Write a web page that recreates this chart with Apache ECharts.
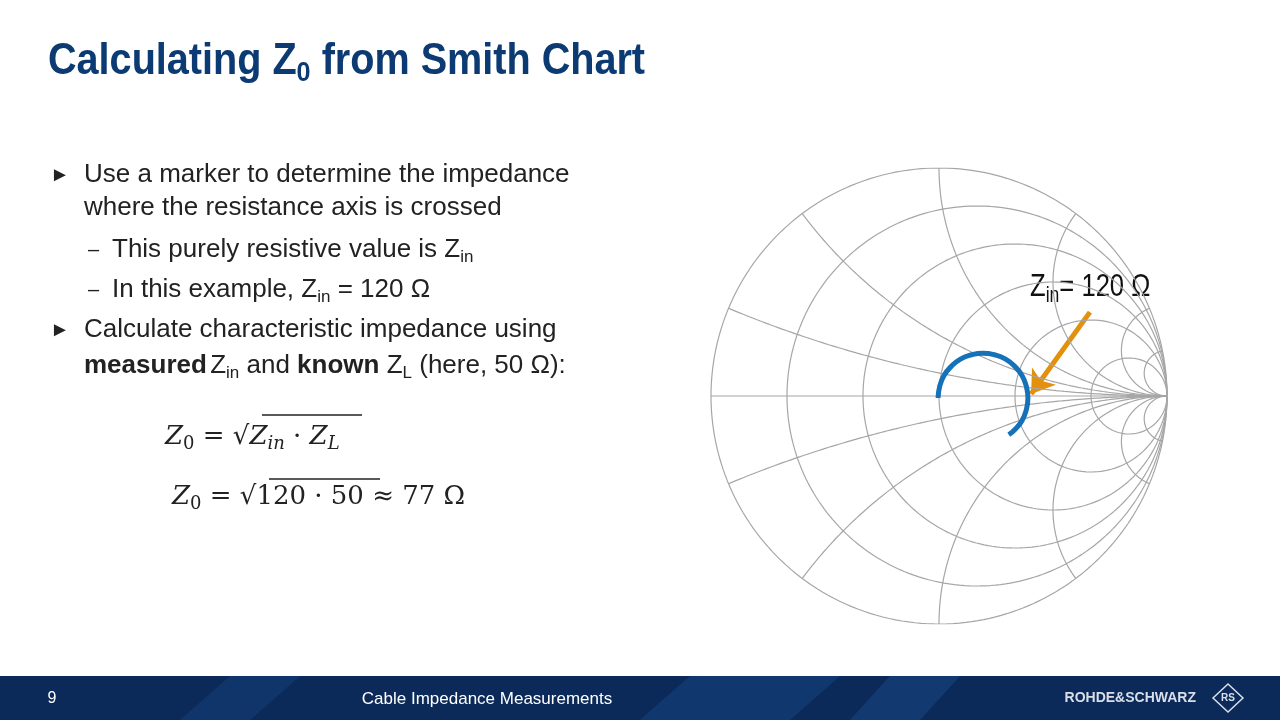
<!DOCTYPE html>
<html>
<head>
<meta charset="UTF-8">
<script src="https://cdn.jsdelivr.net/npm/echarts@6/dist/echarts.min.js"></script>
<style>html,body{margin:0;padding:0;background:#fff}#main{width:1280px;height:720px}</style>
</head>
<body>
<div id="main"></div>
<script>
// Smith chart grid values
var resistanceValues = [0, 0.2, 0.5, 1, 2, 5];
var reactanceValues = [0.2, 0.5, 1, 2, 5, 10];
// measured trace (reflection coefficient)
var traceRe = [-0.004, 0.003, 0.022, 0.054, 0.094, 0.142, 0.193, 0.244, 0.292, 0.332, 0.364, 0.383, 0.390, 0.383, 0.364, 0.332, 0.306];
var traceIm = [-0.009, 0.042, 0.090, 0.130, 0.162, 0.181, 0.188, 0.181, 0.162, 0.130, 0.090, 0.042, -0.009, -0.060, -0.108, -0.148, -0.170];
// annotation arrow start/end
var arrowRe = [0.662, 0.404];
var arrowIm = [0.368, 0.009];

function gamma(r, x) {
    // (z-1)/(z+1)
    var a = r - 1, b = x, c = r + 1, d = x;
    var den = c * c + d * d;
    return [(a * c + b * d) / den, (b * c - a * d) / den];
}
var gridSeries = [];
var lineStyle = {color: '#a6a6a6', width: 1.2};
resistanceValues.forEach(function (r) {
    var pts = [];
    for (var i = -400; i <= 400; i++) {
        var x = Math.sinh(i / 40) * 0.5;
        pts.push(gamma(r, x));
    }
    gridSeries.push({type: 'line', data: pts, showSymbol: false, lineStyle: lineStyle, silent: true});
});
reactanceValues.forEach(function (xv) {
    [xv, -xv].forEach(function (x) {
        var pts = [];
        for (var i = 0; i <= 400; i++) {
            var r = Math.sinh(i / 40) * 0.5;
            pts.push(gamma(r, x));
        }
        gridSeries.push({type: 'line', data: pts, showSymbol: false, lineStyle: lineStyle, silent: true});
    });
});
gridSeries.push({type: 'line', data: [[-1, 0], [1, 0]], showSymbol: false, lineStyle: lineStyle, silent: true});
gridSeries.push({
    type: 'line', smooth: true, showSymbol: false,
    data: traceRe.map(function (v, i) { return [v, traceIm[i]]; }),
    lineStyle: {color: '#1672b8', width: 5}
});
gridSeries.push({
    type: 'lines', coordinateSystem: 'cartesian2d',
    symbol: ['none', 'arrow'], symbolSize: 22,
    lineStyle: {color: '#e3900d', width: 5, opacity: 1},
    data: [{coords: [[arrowRe[0], arrowIm[0]], [arrowRe[1], arrowIm[1]]]}]
});

var txt = '#222';
var sans = 'Liberation Sans, Arial, sans-serif';
var math = 'DejaVu Serif, serif';
function t(x, y, text, extra) {
    var s = {text: text, x: x, y: y, fill: txt, font: '26px ' + sans, textVerticalAlign: 'middle'};
    for (var k in extra) s[k] = extra[k];
    return {type: 'text', style: s};
}
var rich = {
    sub: {fontSize: 17, verticalAlign: 'bottom', padding: [15, 0, 0, 0], fontFamily: sans, fill: txt},
    b: {fontWeight: 'bold', fontSize: 26, fontFamily: sans},
    n: {fontSize: 26, fontFamily: sans},
    mi: {fontSize: 26, fontStyle: 'italic', fontFamily: math},
    m: {fontSize: 26, fontFamily: math},
    msub: {fontSize: 18, fontStyle: 'italic', fontFamily: math, padding: [14, 0, 0, 0]},
    msubn: {fontSize: 18, fontFamily: math, padding: [14, 0, 0, 0]}
};
function rt(x, y, text, extra) {
    var s = {text: text, x: x, y: y, rich: rich, textVerticalAlign: 'middle', fill: txt};
    for (var k in extra) s[k] = extra[k];
    return {type: 'text', style: s};
}

var graphics = [
    {type: 'text', x: 48, y: 62, scaleX: 0.9, style: {text: 'Calculating Z{s|0} from Smith Chart', x: 0, y: 0, textVerticalAlign: 'middle',
        fill: '#0c3a73', font: 'bold 44px Arial, sans-serif',
        rich: {s: {fontSize: 28, fontWeight: 'bold', fontFamily: 'Arial', padding: [22, 0, 0, 0], fill: '#0c3a73'}}}},
    t(50, 175, '►', {font: '20px ' + sans}),
    t(84, 175, 'Use a marker to determine the impedance'),
    t(84, 208, 'where the resistance axis is crossed'),
    t(88, 250, '–', {font: '20px ' + sans}),
    rt(112, 250, '{n|This purely resistive value is Z}{sub|in}'),
    t(88, 290, '–', {font: '20px ' + sans}),
    rt(112, 290, '{n|In this example, Z}{sub|in}{n| = 120 Ω}'),
    t(50, 330, '►', {font: '20px ' + sans}),
    t(84, 330, 'Calculate characteristic impedance using'),
    rt(84, 366, '{b|measured} {n|Z}{sub|in}{n| and }{b|known}{n| Z}{sub|L}{n| (here, 50 Ω):}'),
    rt(165, 437, '{mi|Z}{msubn|0}{m| = √}{mi|Z}{msub|in}{m| · }{mi|Z}{msub|L}'),
    {type: 'line', shape: {x1: 262, y1: 415, x2: 362, y2: 415}, style: {stroke: txt, lineWidth: 1.5}},
    rt(172, 497, '{mi|Z}{msubn|0}{m| = √120 · 50 ≈ 77 Ω}'),
    {type: 'line', shape: {x1: 269, y1: 479, x2: 380, y2: 479}, style: {stroke: txt, lineWidth: 1.5}},
    {type: 'text', x: 1030, y: 287, scaleX: 0.8, style: {text: 'Z{s|in}= 120 Ω', x: 0, y: 0, textVerticalAlign: 'middle', fill: '#111',
        font: '32px Arial, sans-serif',
        rich: {s: {fontSize: 22, fontFamily: 'Arial', padding: [18, 0, 0, 0], fill: '#111'}}}},
    // footer
    {type: 'rect', shape: {x: 0, y: 676, width: 1280, height: 44}, style: {fill: '#0b2a5a'}},
    {type: 'polygon', shape: {points: [[180, 720], [230, 676], [300, 676], [250, 720]]}, style: {fill: '#133a70', opacity: 0.7}},
    {type: 'polygon', shape: {points: [[640, 720], [690, 676], [840, 676], [790, 720]]}, style: {fill: '#15427c', opacity: 0.6}},
    {type: 'polygon', shape: {points: [[850, 720], [890, 676], [960, 676], [920, 720]]}, style: {fill: '#1a4a88', opacity: 0.5}},
    {type: 'text', style: {text: '9', x: 52, y: 699, fill: '#fff', font: '16px ' + sans, textAlign: 'center', textVerticalAlign: 'middle'}},
    {type: 'text', style: {text: 'Cable Impedance Measurements', x: 487, y: 699, fill: '#fff', font: '17px ' + sans, textAlign: 'center', textVerticalAlign: 'middle'}},
    {type: 'text', style: {text: 'ROHDE&SCHWARZ', x: 1196, y: 698, fill: '#d9dee8', font: 'bold 14px ' + sans, textAlign: 'right', textVerticalAlign: 'middle'}},
    {type: 'polygon', shape: {points: [[1228, 684], [1243, 698], [1228, 712], [1213, 698]]}, style: {fill: 'none', stroke: '#d9dee8', lineWidth: 1.5}},
    {type: 'text', style: {text: 'RS', x: 1228, y: 698, fill: '#d9dee8', font: 'bold 10px ' + sans, textAlign: 'center', textVerticalAlign: 'middle'}}
];

var chart = echarts.init(document.getElementById('main'));
chart.setOption({
    animation: false,
    grid: {left: 711, top: 168, width: 456, height: 456},
    xAxis: {type: 'value', min: -1, max: 1, show: false},
    yAxis: {type: 'value', min: -1, max: 1, show: false},
    series: gridSeries,
    graphic: graphics
});
</script>
</body>
</html>
